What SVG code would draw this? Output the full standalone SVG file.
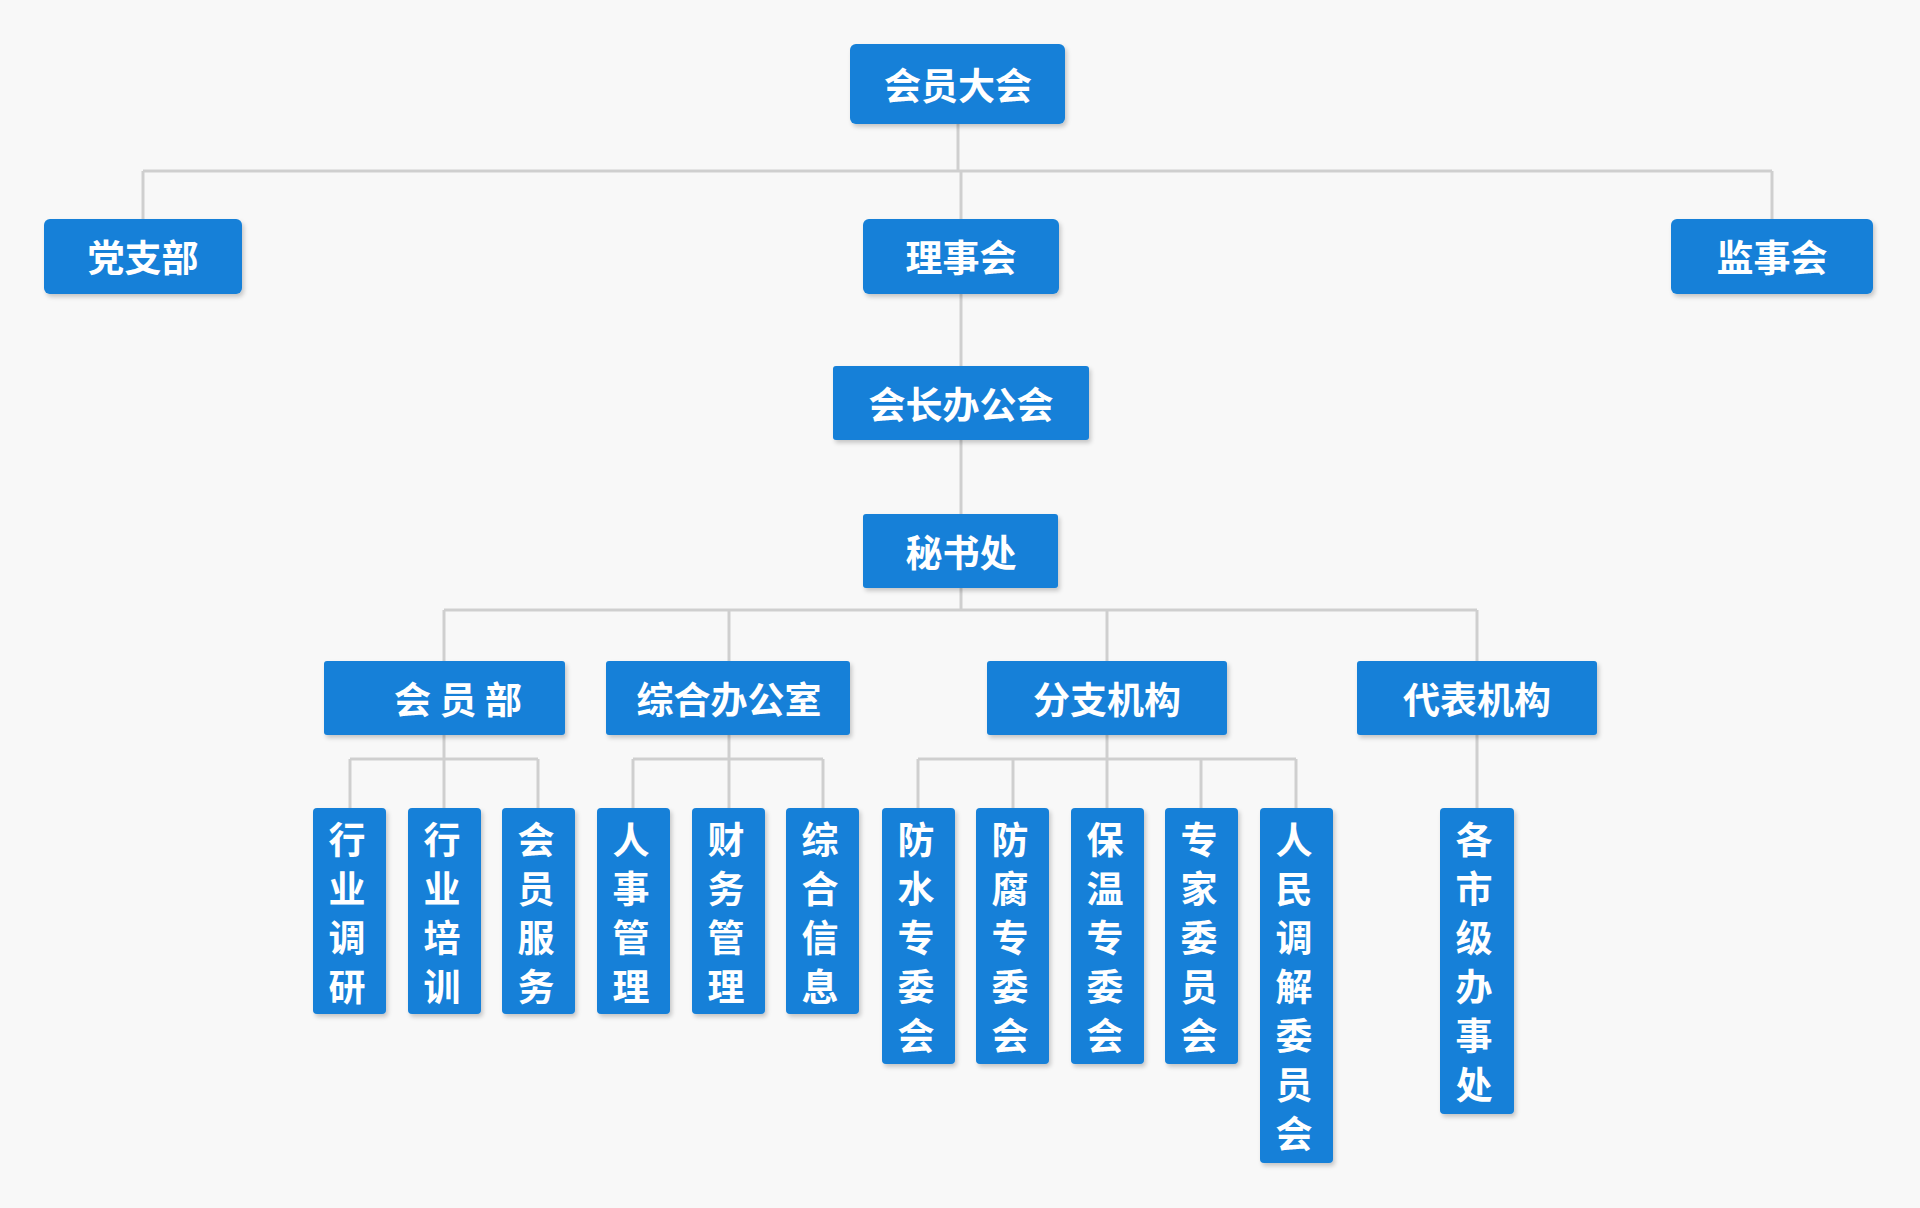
<svg xmlns="http://www.w3.org/2000/svg" width="1920" height="1208" viewBox="0 0 1920 1208">
<style>
.n{fill:#1480d8;filter:url(#sh)}
.t{fill:#fff;font-family:"Noto Sans CJK SC",sans-serif;font-weight:bold;font-size:37px;text-anchor:middle;dominant-baseline:central}
.c{fill:none;stroke:#cfcfcf;stroke-width:3}
</style>
<defs><filter id="sh" x="-10%" y="-10%" width="130%" height="140%"><feDropShadow dx="2" dy="3" stdDeviation="2" flood-color="#000" flood-opacity="0.2"/></filter></defs>
<rect width="1920" height="1208" fill="#f8f8f8"/>
<g id="connectors" class="c">
<path d="M958 124V171M143 171H1772M143 171V219M961 171V219M1772 171V219M961 294V366M961 440V514M961 588V610M444 610H1477M444 610V661M729 610V661M1107 610V661M1477 610V661"/>
<path d="M444 735V759M350 759H538M350 759V808M444 759V808M538 759V808"/>
<path d="M729 735V759M633 759H823M633 759V808M729 759V808M823 759V808"/>
<path d="M1107 735V759M918 759H1296M918 759V808M1013 759V808M1107 759V808M1201 759V808M1296 759V808"/>
<path d="M1477 735V808"/>
</g>
<g id="n1"><rect class="n" x="850" y="44" width="215" height="80" rx="6"/><text class="t" x="958" y="84">会员大会</text></g>
<g id="n2"><rect class="n" x="44" y="219" width="198" height="75" rx="6"/><text class="t" x="143" y="256">党支部</text></g>
<g id="n3"><rect class="n" x="863" y="219" width="196" height="75" rx="6"/><text class="t" x="961" y="256">理事会</text></g>
<g id="n4"><rect class="n" x="1671" y="219" width="202" height="75" rx="6"/><text class="t" x="1772" y="256">监事会</text></g>
<g id="n5"><rect class="n" x="833" y="366" width="256" height="74" rx="3"/><text class="t" x="961" y="403">会长办公会</text></g>
<g id="n6"><rect class="n" x="863" y="514" width="195" height="74" rx="3"/><text class="t" x="961" y="551">秘书处</text></g>
<g id="n7"><rect class="n" x="324" y="661" width="241" height="74" rx="3"/><text class="t" x="458" y="698">会 员 部</text></g>
<g id="n8"><rect class="n" x="606" y="661" width="244" height="74" rx="3"/><text class="t" x="729" y="698">综合办公室</text></g>
<g id="n9"><rect class="n" x="987" y="661" width="240" height="74" rx="3"/><text class="t" x="1107" y="698">分支机构</text></g>
<g id="n10"><rect class="n" x="1357" y="661" width="240" height="74" rx="3"/><text class="t" x="1477" y="698">代表机构</text></g>
<g id="l1"><rect class="n" x="313" y="808" width="73" height="206" rx="4"/><text class="t" x="349"><tspan x="347" y="838">行</tspan><tspan x="347" y="887">业</tspan><tspan x="347" y="936">调</tspan><tspan x="347" y="985">研</tspan></text></g>
<g id="l2"><rect class="n" x="408" y="808" width="73" height="206" rx="4"/><text class="t"><tspan x="442" y="838">行</tspan><tspan x="442" y="887">业</tspan><tspan x="442" y="936">培</tspan><tspan x="442" y="985">训</tspan></text></g>
<g id="l3"><rect class="n" x="502" y="808" width="73" height="206" rx="4"/><text class="t"><tspan x="536" y="838">会</tspan><tspan x="536" y="887">员</tspan><tspan x="536" y="936">服</tspan><tspan x="536" y="985">务</tspan></text></g>
<g id="l4"><rect class="n" x="597" y="808" width="73" height="206" rx="4"/><text class="t"><tspan x="631" y="838">人</tspan><tspan x="631" y="887">事</tspan><tspan x="631" y="936">管</tspan><tspan x="631" y="985">理</tspan></text></g>
<g id="l5"><rect class="n" x="692" y="808" width="73" height="206" rx="4"/><text class="t"><tspan x="726" y="838">财</tspan><tspan x="726" y="887">务</tspan><tspan x="726" y="936">管</tspan><tspan x="726" y="985">理</tspan></text></g>
<g id="l6"><rect class="n" x="786" y="808" width="73" height="206" rx="4"/><text class="t"><tspan x="820" y="838">综</tspan><tspan x="820" y="887">合</tspan><tspan x="820" y="936">信</tspan><tspan x="820" y="985">息</tspan></text></g>
<g id="l7"><rect class="n" x="882" y="808" width="73" height="256" rx="4"/><text class="t"><tspan x="916" y="838">防</tspan><tspan x="916" y="887">水</tspan><tspan x="916" y="936">专</tspan><tspan x="916" y="985">委</tspan><tspan x="916" y="1034">会</tspan></text></g>
<g id="l8"><rect class="n" x="976" y="808" width="73" height="256" rx="4"/><text class="t"><tspan x="1010" y="838">防</tspan><tspan x="1010" y="887">腐</tspan><tspan x="1010" y="936">专</tspan><tspan x="1010" y="985">委</tspan><tspan x="1010" y="1034">会</tspan></text></g>
<g id="l9"><rect class="n" x="1071" y="808" width="73" height="256" rx="4"/><text class="t"><tspan x="1105" y="838">保</tspan><tspan x="1105" y="887">温</tspan><tspan x="1105" y="936">专</tspan><tspan x="1105" y="985">委</tspan><tspan x="1105" y="1034">会</tspan></text></g>
<g id="l10"><rect class="n" x="1165" y="808" width="73" height="256" rx="4"/><text class="t"><tspan x="1199" y="838">专</tspan><tspan x="1199" y="887">家</tspan><tspan x="1199" y="936">委</tspan><tspan x="1199" y="985">员</tspan><tspan x="1199" y="1034">会</tspan></text></g>
<g id="l11"><rect class="n" x="1260" y="808" width="73" height="355" rx="4"/><text class="t"><tspan x="1294" y="838">人</tspan><tspan x="1294" y="887">民</tspan><tspan x="1294" y="936">调</tspan><tspan x="1294" y="985">解</tspan><tspan x="1294" y="1034">委</tspan><tspan x="1294" y="1083">员</tspan><tspan x="1294" y="1132">会</tspan></text></g>
<g id="l12"><rect class="n" x="1440" y="808" width="74" height="306" rx="4"/><text class="t"><tspan x="1474" y="838">各</tspan><tspan x="1474" y="887">市</tspan><tspan x="1474" y="936">级</tspan><tspan x="1474" y="985">办</tspan><tspan x="1474" y="1034">事</tspan><tspan x="1474" y="1083">处</tspan></text></g>
</svg>
